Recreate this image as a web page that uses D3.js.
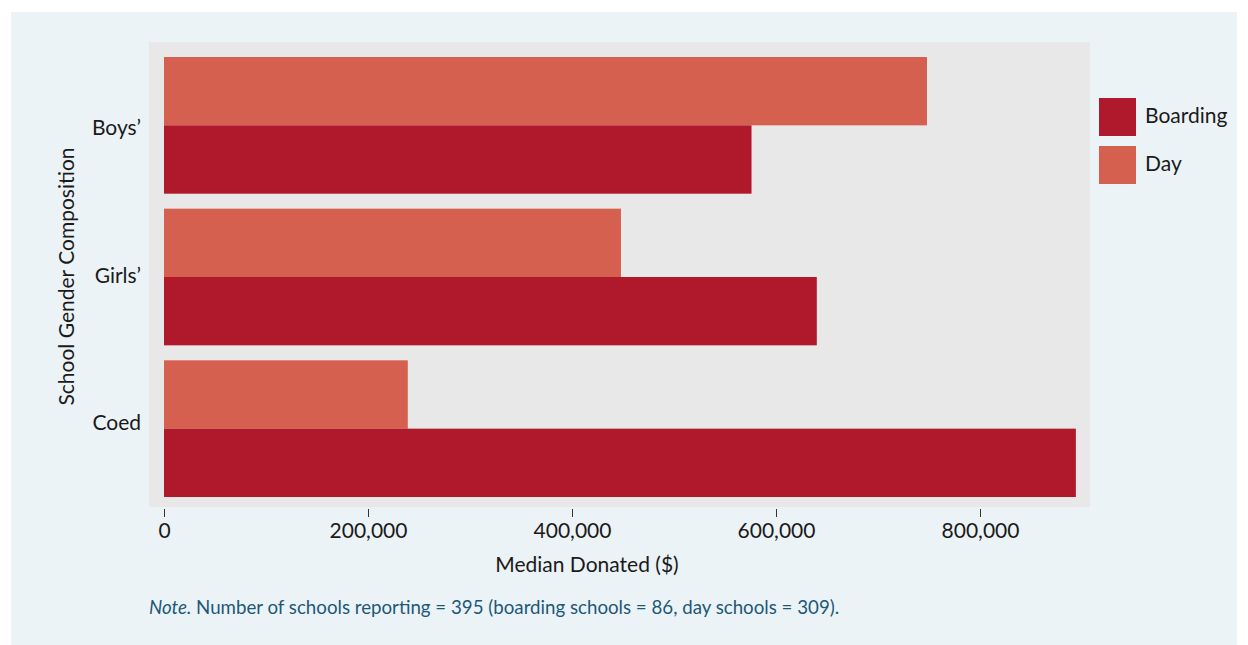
<!DOCTYPE html>
<html>
<head>
<meta charset="utf-8">
<script src="https://cdn.jsdelivr.net/npm/d3@7"></script>
<style>
  html, body { margin: 0; padding: 0; background: #fff; }
  svg { display: block; font-family: Lato, "Open Sans", sans-serif; }
</style>
</head>
<body>
<div id="chart"></div>
<script>
const categories = ['Boys\u2019', 'Girls\u2019', 'Coed'];
const seriesNames = ['Day', 'Boarding'];
const dayValues = [748000, 448000, 239000];
const boardingValues = [576000, 640000, 894000];
const xTicks = [0, 200000, 400000, 600000, 800000];
const legendNames = ['Boarding', 'Day'];

const colors = { Boarding: '#b0182b', Day: '#d6604f' };

const width = 1248;
const height = 645;
const panel = { left: 149, right: 1090, top: 42, bottom: 507 };

const svg = d3.select('#chart')
              .append('svg')
              .attr('width', width)
              .attr('height', height);

// outer background
svg.append('rect')
   .attr('x', 11).attr('y', 12)
   .attr('width', 1226).attr('height', 633)
   .attr('fill', '#ecf3f7');

// plot panel
svg.append('rect')
   .attr('x', panel.left).attr('y', panel.top)
   .attr('width', panel.right - panel.left)
   .attr('height', panel.bottom - panel.top)
   .attr('fill', '#e8e8e8');

const xScale = d3.scaleLinear()
                 .domain([0, 800000])
                 .range([164, 980]);

const yScale = d3.scaleBand()
                 .domain(categories)
                 .range([panel.top + 15, panel.bottom - 10])
                 .paddingInner(15 / 152)
                 .paddingOuter(0);

const inner = d3.scaleBand()
                .domain(seriesNames)
                .range([0, yScale.bandwidth()]);

// category labels sit on a slightly tighter spacing than the bar groups
const yLabel = d3.scalePoint()
                 .domain(categories)
                 .range([129, 424]);

const rows = categories.map((c, i) => ({
    cat: c,
    values: [
        { key: 'Day', value: dayValues[i] },
        { key: 'Boarding', value: boardingValues[i] }
    ]
}));

const groups = svg.selectAll('.grp')
                  .data(rows)
                  .enter()
                  .append('g')
                  .attr('class', 'grp')
                  .attr('transform', d => `translate(0, ${yScale(d.cat)})`);

groups.selectAll('rect')
      .data(d => d.values)
      .enter()
      .append('rect')
      .attr('x', xScale(0))
      .attr('y', d => inner(d.key))
      .attr('width', d => xScale(d.value) - xScale(0))
      .attr('height', inner.bandwidth())
      .attr('fill', d => colors[d.key]);

// x axis
const xAxis = d3.axisBottom(xScale)
                .tickValues(xTicks)
                .tickSize(8)
                .tickPadding(6)
                .tickFormat(d3.format(','));

const xg = svg.append('g')
              .attr('transform', `translate(0, ${panel.bottom + 2})`)
              .call(xAxis);
xg.select('.domain').remove();
xg.selectAll('line').attr('stroke', '#333');
xg.selectAll('text')
  .attr('fill', '#1a1a1a')
  .style('font-size', '21px')
  .style('font-family', 'Lato, sans-serif');

// category labels
svg.selectAll('.cat')
   .data(categories)
   .enter()
   .append('text')
   .attr('class', 'cat')
   .attr('x', 141)
   .attr('y', d => yLabel(d))
   .attr('dy', '0.3em')
   .attr('text-anchor', 'end')
   .attr('fill', '#1a1a1a')
   .style('font-size', '21px')
   .text(d => d);

// axis titles
svg.append('text')
   .attr('x', 587)
   .attr('y', 572)
   .attr('text-anchor', 'middle')
   .attr('fill', '#1a1a1a')
   .style('font-size', '21px')
   .text('Median Donated ($)');

svg.append('text')
   .attr('transform', `translate(74, ${(panel.top + panel.bottom) / 2 + 2}) rotate(-90)`)
   .attr('text-anchor', 'middle')
   .attr('fill', '#1a1a1a')
   .style('font-size', '21px')
   .text('School Gender Composition');

// legend
const legend = svg.selectAll('.leg')
                  .data(legendNames)
                  .enter()
                  .append('g')
                  .attr('class', 'leg')
                  .attr('transform', (d, i) => `translate(1099, ${98 + i * 48})`);

legend.append('rect')
      .attr('width', 37)
      .attr('height', 38)
      .attr('fill', d => colors[d]);

legend.append('text')
      .attr('x', 46)
      .attr('y', 18)
      .attr('dy', '0.35em')
      .attr('fill', '#1a1a1a')
      .style('font-size', '21px')
      .text(d => d);

// note
const note = svg.append('text')
                .attr('x', 149)
                .attr('y', 614)
                .attr('fill', '#1d5878')
                .style('font-size', '18.7px');
note.append('tspan').style('font-style', 'italic').text('Note.');
note.append('tspan').text(' Number of schools reporting = 395 (boarding schools = 86, day schools = 309).');
</script>
</body>
</html>
